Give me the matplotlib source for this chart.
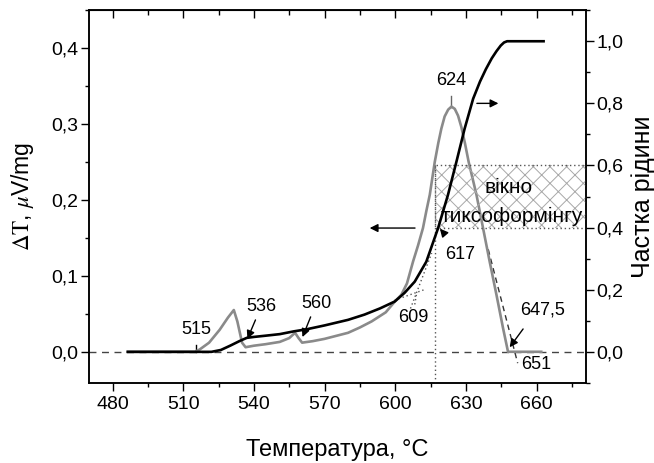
import matplotlib
matplotlib.use("Agg")
import matplotlib.pyplot as plt
from matplotlib.patches import Rectangle
from matplotlib.ticker import MultipleLocator, FuncFormatter

plt.rcParams['font.family'] = ['Liberation Sans', 'DejaVu Sans']
plt.rcParams['mathtext.fontset'] = 'stix'
plt.rcParams['hatch.linewidth'] = 0.7

# DTA signal, uV/mg
dta_t = [486.5, 515, 517, 521, 525.5, 529, 531.5, 533, 535, 536.5, 540, 545, 551, 555,
         557.5, 559, 560.5, 565, 570, 575, 580, 585, 590, 596, 599.8, 602.6, 605, 607.6,
         609.7, 611.8, 613.2, 614.7, 616.8, 618.3, 619.6, 621, 622.5, 623.9, 625.3, 626.7,
         628.1, 629.6, 631.2, 634.5, 637.3, 640.1, 643, 645.8, 647.9, 662]
dta_v = [0, 0, 0.003, 0.012, 0.029, 0.045, 0.055, 0.04, 0.012, 0.006, 0.008, 0.01, 0.013, 0.018,
         0.025, 0.018, 0.012, 0.014, 0.017, 0.021, 0.025, 0.032, 0.04, 0.052, 0.066, 0.075, 0.09, 0.119,
         0.14, 0.163, 0.185, 0.207, 0.25, 0.275, 0.294, 0.31, 0.319, 0.323, 0.32, 0.311,
         0.296, 0.275, 0.25, 0.207, 0.163, 0.119, 0.075, 0.031, 0.0, 0.0]

# liquid fraction
liq_t = [486.5, 522, 526, 530, 534, 537, 540, 545, 551, 557, 562, 570, 580, 587, 593.6,
         599.8, 604, 608.3, 613.2, 618.2, 622.4, 626, 629.5, 633.1, 636, 638.5, 641, 643,
         644.8, 646.2, 647.5, 663]
liq_f = [0, 0, 0.006, 0.02, 0.035, 0.045, 0.048, 0.052, 0.057, 0.066, 0.072, 0.085, 0.103, 0.12, 0.14,
         0.162, 0.19, 0.226, 0.29, 0.398, 0.505, 0.612, 0.719, 0.815, 0.87, 0.91, 0.945, 0.968,
         0.986, 0.996, 1.0, 1.0]

# thixoforming window
win_t0 = 617
win_f = (0.4, 0.6)

xticks = [480, 510, 540, 570, 600, 630, 660]
comma = FuncFormatter(lambda v, p: f'{v:.1f}'.replace('.', ','))

fig = plt.figure(figsize=(6.54, 4.63), dpi=100)
ax = fig.add_axes([0.136, 0.173, 0.76, 0.805])
ax2 = ax.twinx()

ax.plot(dta_t, dta_v, color='#8a8a8a', lw=1.9, zorder=3)
ax.axhline(0, color='#444444', lw=1.0, ls=(0, (5, 4)), zorder=2)

ax.set_xlim(470, 681)
ax.set_ylim(-0.041, 0.45)
ax2.set_ylim(-0.1, 1.1)

ax.set_xticks(xticks)
ax.xaxis.set_minor_locator(MultipleLocator(15))
ax.yaxis.set_major_locator(MultipleLocator(0.1))
ax.yaxis.set_minor_locator(MultipleLocator(0.05))
ax.yaxis.set_major_formatter(comma)
ax2.yaxis.set_major_locator(MultipleLocator(0.2))
ax2.yaxis.set_minor_locator(MultipleLocator(0.1))
ax2.yaxis.set_major_formatter(comma)

ax.tick_params(which='major', length=5.5, width=1, labelsize=14)
ax.tick_params(which='minor', length=3, width=1)
ax.tick_params(axis='x', pad=4)
ax.tick_params(axis='y', pad=2)
ax2.tick_params(which='major', length=5.5, width=1, labelsize=14, pad=2)
ax2.tick_params(which='minor', length=3, width=1)

top = ax.secondary_xaxis('top')
top.set_xticks(xticks)
top.xaxis.set_minor_locator(MultipleLocator(15))
top.tick_params(which='both', direction='in', labeltop=False)
top.tick_params(which='major', length=5.5, width=1)
top.tick_params(which='minor', length=3.5, width=1)

for a in (ax, ax2):
    for s in a.spines.values():
        s.set_linewidth(1.1)

# hatched window and its dotted outline
ax2.add_patch(Rectangle((win_t0, win_f[0]), 681 - win_t0, win_f[1] - win_f[0],
                        facecolor='none', edgecolor='#a8a8a8', hatch='xx', lw=0, zorder=1))
ax2.add_patch(Rectangle((win_t0, win_f[0]), 681 - win_t0, win_f[1] - win_f[0],
                        facecolor='none', edgecolor='#555555', ls=(0, (1, 2)), lw=1, zorder=1))
ax2.plot([win_t0, win_t0], [-0.1, win_f[1]], color='#555555', ls=(0, (1, 2)), lw=1, zorder=1)
ax2.text(648.2, 0.53, 'вікно', fontsize=15, ha='center', va='center')
ax2.text(649.6, 0.435, 'тиксоформінгу', fontsize=15, ha='center', va='center')

ax2.plot(liq_t, liq_f, color='black', lw=1.9, zorder=4)

# tangent constructions
ax.plot([599.8, 613], [0.068, 0.0825], color='#555555', ls=(0, (1, 2)), lw=1)
ax.plot([606.5, 615.5], [0.057, 0.13], color='#555555', ls=(0, (1, 2)), lw=1)
ax.plot([609, 608.3], [0.075, 0.062], color='#555555', ls=(0, (1, 2)), lw=1)
ax.plot([639.5, 652], [0.135, -0.015], color='#333333', ls=(0, (4, 3)), lw=1)

# temperature marks
arrow = dict(arrowstyle='-|>', color='black', lw=1, mutation_scale=12)
ax.plot([515.5, 515.5], [0, 0.009], color='black', lw=1)
ax.text(515.5, 0.03, '515', fontsize=13, ha='center', va='center')
ax.annotate('536', xy=(536.8, 0.0136), xytext=(543.2, 0.049), arrowprops=arrow,
            fontsize=13, ha='center', va='bottom')
ax.annotate('560', xy=(560.2, 0.016), xytext=(566.5, 0.053), arrowprops=arrow,
            fontsize=13, ha='center', va='bottom')
ax.text(607.5, 0.045, '609', fontsize=13, ha='center', va='center')
ax.plot([623.9, 623.9], [0.323, 0.337], color='#666666', lw=1)
ax.text(623.9, 0.358, '624', fontsize=13, ha='center', va='center')
ax.annotate('', xy=(618.2, 0.165), xytext=(621.8, 0.152), arrowprops=arrow)
ax.text(627.4, 0.128, '617', fontsize=13, ha='center', va='center')
ax.annotate('', xy=(647.9, 0.003), xytext=(655, 0.033), arrowprops=arrow)
ax.text(662.7, 0.055, '647,5', fontsize=13, ha='center', va='center')
ax.text(660, -0.017, '651', fontsize=13, ha='center', va='center')

# which axis each curve belongs to
ax.annotate('', xy=(588, 0.163), xytext=(609.6, 0.163),
            arrowprops=dict(arrowstyle='-|>', color='black', lw=1, mutation_scale=12))
ax2.annotate('', xy=(645, 0.8), xytext=(633.5, 0.8),
             arrowprops=dict(arrowstyle='-|>', color='black', lw=1, mutation_scale=12))

ax.set_xlabel('Температура, °C', fontsize=17, labelpad=19)
ax.set_ylabel(r'$\Delta\mathrm{T}$, $\mu$V/mg', fontsize=16.5)
ax.yaxis.set_label_coords(-0.107, 0.5)
ax2.set_ylabel('Частка рідини', fontsize=18)
ax2.yaxis.set_label_coords(1.09, 0.5)

fig.savefig('out.png', dpi=100)
